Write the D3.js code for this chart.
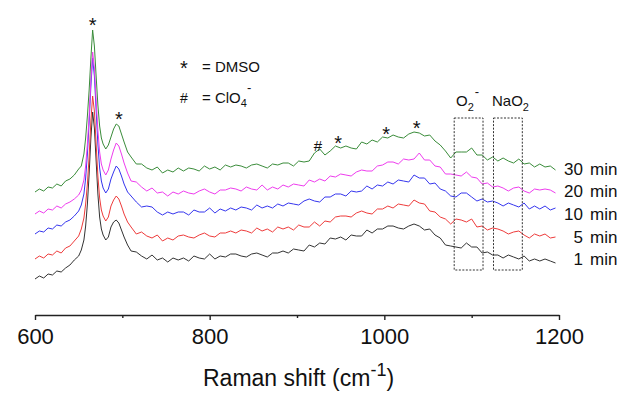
<!DOCTYPE html>
<html><head><meta charset="utf-8">
<script src="https://cdn.jsdelivr.net/npm/d3@7"></script>
<style>
html,body{margin:0;padding:0;background:#fff;}
text{font-family:"Liberation Sans",Arial,sans-serif;fill:#111;}
</style></head>
<body><svg id="c" width="624" height="394"></svg>
<script>
// Raman shift grid (cm-1)
const wavenumbers = [600,605,610,615,620,625,630,635,640,645,650,
 653,656,658,660,662,664,666,668,670,672,674,676,678,681,684,687,690,693,696,699,702,706,
 710,716,722,728,734,740,746,752,758,764,
 770,776,782,788,794,800,806,812,818,824,
 830,836,842,848,854,860,866,872,878,884,
 890,896,902,908,914,920,926,932,938,944,
 950,956,962,968,974,980,986,992,998,1004,
 1010,1016,1022,1028,1034,1040,1046,1052,1058,1064,
 1070,1076,1082,1088,1094,1100,1106,1112,1118,1124,
 1130,1136,1142,1148,1154,1160,1166,1172,1178,1184,
 1190,1196];

// intensities (a.u., stacked with offsets as in the figure)
const int1min = [37,40,38,42,41,45,44,48,51,56,60,
 66,76,90,112,142,178,204,188,155,122,99,87,81,76,79,89,94,96,93,86,79,71,
 65,64,60,57,61,56,58,54,58,56,
 58,55,60,58,57,62,57,60,59,62,
 62,60,59,62,63,61,59,63,63,65,
 63,67,66,65,71,69,73,72,78,77,
 79,76,81,80,80,86,83,87,87,90,
 90,88,87,90,92,90,86,87,81,78,
 71,70,69,68,73,69,69,63,64,61,
 61,58,61,59,57,60,55,57,55,57,
 55,53];
const int5min = [57,60,58,62,61,65,63,68,70,75,80,
 87,98,112,132,160,195,220,205,172,140,118,106,100,95,99,110,116,120,117,110,102,94,
 89,82,84,80,78,81,75,78,76,80,
 81,79,78,81,83,80,79,83,83,85,
 83,86,85,83,88,85,87,84,89,87,
 89,86,91,89,89,94,90,95,94,99,
 100,100,99,103,105,103,102,107,107,110,
 108,112,111,110,116,113,112,105,104,99,
 97,92,97,96,94,97,89,90,86,88,
 87,85,82,84,85,81,78,82,80,82,
 78,79];
const int10min = [82,85,84,88,87,91,90,94,96,100,105,
 111,122,138,162,194,230,258,240,206,172,148,135,128,123,127,137,144,150,147,140,132,124,
 120,114,109,110,109,104,101,104,102,104,
 104,101,106,104,104,108,103,107,105,108,
 106,109,108,106,111,108,110,108,112,110,
 113,112,111,115,117,115,114,119,119,122,
 122,120,125,124,125,130,127,131,130,134,
 132,136,135,134,141,138,138,132,133,127,
 125,120,119,123,123,119,115,117,114,115,
 113,110,113,111,109,113,107,110,107,110,
 106,108];
const int20min = [102,105,103,107,106,110,108,112,114,117,121,
 126,136,150,172,200,236,264,248,216,186,164,152,146,141,146,157,166,173,170,162,153,143,
 135,134,129,125,128,123,124,120,124,122,
 125,123,122,125,127,124,122,126,126,128,
 127,125,129,127,126,131,126,129,127,131,
 129,132,131,130,136,134,137,135,140,139,
 142,141,140,144,146,145,145,150,151,154,
 154,152,157,156,157,163,156,156,150,149,
 142,142,141,140,144,139,138,132,133,129,
 130,128,125,128,129,125,123,127,126,127,
 126,123];
const int30min = [124,127,125,129,128,132,130,135,137,141,147,
 150,162,178,200,226,258,286,270,240,211,190,178,172,167,171,179,187,192,190,182,174,164,
 159,152,152,148,146,149,143,146,144,148,
 145,148,147,145,150,147,149,146,151,149,
 151,150,148,151,152,150,148,152,151,153,
 153,150,155,154,155,163,167,161,165,170,
 168,170,168,167,174,172,176,174,179,178,
 181,179,178,182,184,183,180,181,175,171,
 165,158,164,164,164,168,161,161,156,159,
 155,158,155,153,157,152,153,149,152,149,
 150,146];

const seriesNums = ["1","5","10","20","30"];
const seriesValues = [int1min,int5min,int10min,int20min,int30min];
const seriesColors = ["#333333","#ee3b3b","#3535ee","#ee3cee","#3a8c3a"];
const labelLevels = [51,73,96,119,141]; // label baselines in intensity units

const majorTicks = [600,800,1000,1200];
const minorTicks = [700,900,1100];

// annotation marks: [wavenumber, intensity, symbol]
const bandMarks = [[666,287,"*"],[696,193,"*"],[924,165,"#"],[947,169,"*"],[1002,178,"*"],[1037,184,"*"]];
// dashed boxes [x0,x1] in cm-1, spanning intensities [y0,y1]
const boxes = [[1080,1113],[1125,1158]];
const boxSpan = [46,198];

const svg = d3.select("#c");
const x = d3.scaleLinear().domain([600,1200]).range([35,559]);
const y = d3.scaleLinear().domain([0,300]).range([316,16]);

// axis
const ax = svg.append("g").attr("transform","translate(0,315)")
  .call(d3.axisBottom(x).tickValues(majorTicks).tickSize(5).tickSizeOuter(0).tickPadding(8).tickFormat(d3.format("d")));
ax.select(".domain").attr("stroke","#222").attr("stroke-width",1.4);
ax.selectAll(".tick line").attr("stroke","#222").attr("stroke-width",1.4);
ax.selectAll(".tick text").attr("font-size",22).attr("font-family","Liberation Sans, Arial, sans-serif").attr("fill","#111");
const axm = svg.append("g").attr("transform","translate(0,315)")
  .call(d3.axisBottom(x).tickValues(minorTicks).tickSize(3).tickFormat(""));
axm.select(".domain").remove();
axm.selectAll(".tick line").attr("stroke","#222").attr("stroke-width",1.4);

// title
const t = svg.append("text").attr("x",203).attr("y",386).attr("font-size",23);
t.append("tspan").text("Raman shift (cm");
t.append("tspan").attr("font-size",18).attr("dy",-10).text("-1");
t.append("tspan").attr("font-size",23).attr("dy",10).text(")");

// spectra
const line = d3.line().x((d,i)=>x(wavenumbers[i])).y(d=>y(d));
seriesValues.forEach((vals,k)=>{
  svg.append("path").attr("d",line(vals)).attr("fill","none")
    .attr("stroke",seriesColors[k]).attr("stroke-width",1).attr("stroke-linejoin","round");
});

// series labels
seriesNums.forEach((n,k)=>{
  svg.append("text").attr("x",583).attr("y",y(labelLevels[k])).attr("text-anchor","end").attr("font-size",17).text(n);
  svg.append("text").attr("x",590).attr("y",y(labelLevels[k])).attr("font-size",17).text("min");
});

// dashed boxes
boxes.forEach(b=>{
  svg.append("rect").attr("x",x(b[0])).attr("y",y(boxSpan[1])).attr("width",x(b[1])-x(b[0]))
    .attr("height",y(boxSpan[0])-y(boxSpan[1])).attr("fill","none").attr("stroke","#333")
    .attr("stroke-width",1).attr("stroke-dasharray","2,1.5");
});

// band marks
bandMarks.forEach(m=>{
  svg.append("text").attr("x",x(m[0])).attr("y",y(m[1])+(m[2]==="*"?3:0)).attr("text-anchor","middle")
    .attr("font-size",m[2]==="*"?20:15).text(m[2]);
});

// box labels
const o2 = svg.append("text").attr("x",456).attr("y",106).attr("font-size",15);
o2.append("tspan").text("O");
o2.append("tspan").attr("font-size",11).attr("dy",5).text("2");
o2.append("tspan").attr("font-size",13).attr("dx",1).attr("dy",-15).text("-");
const na = svg.append("text").attr("x",492).attr("y",106).attr("font-size",15);
na.append("tspan").text("NaO");
na.append("tspan").attr("font-size",11).attr("dy",5).text("2");

// legend
svg.append("text").attr("x",184).attr("y",75).attr("text-anchor","middle").attr("font-size",20).text("*");
svg.append("text").attr("x",202).attr("y",72).attr("font-size",15).text("= DMSO");
svg.append("text").attr("x",184).attr("y",103).attr("text-anchor","middle").attr("font-size",14).text("#");
const cl = svg.append("text").attr("x",202).attr("y",103).attr("font-size",15);
cl.append("tspan").text("= ClO");
cl.append("tspan").attr("font-size",11).attr("dy",4).text("4");
cl.append("tspan").attr("font-size",13).attr("dy",-15).text("-");
</script></body></html>
